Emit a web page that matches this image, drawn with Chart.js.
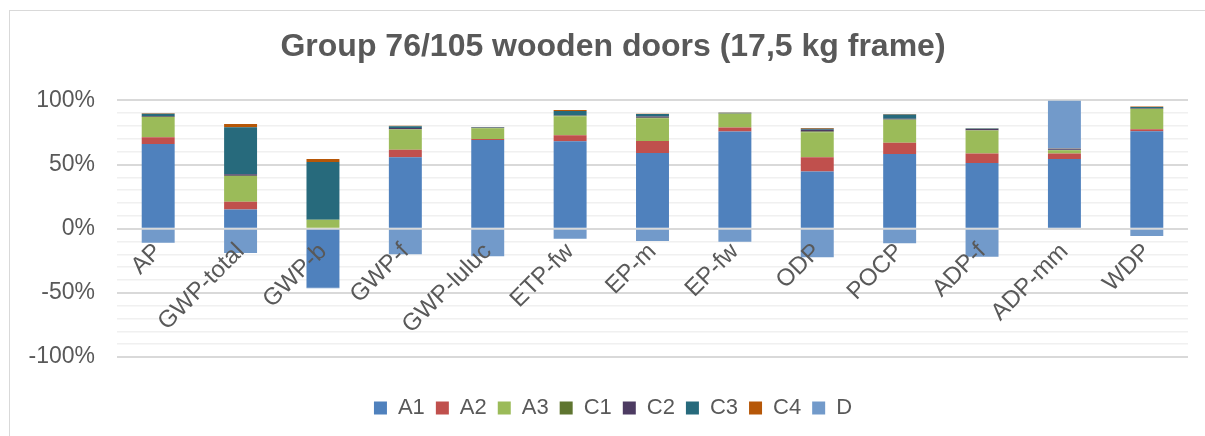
<!DOCTYPE html>
<html>
<head>
<meta charset="utf-8">
<script src="https://cdn.jsdelivr.net/npm/chart.js@4"></script>
<style>
  body { margin: 0; background: #fff; }
  #frame { position: absolute; left: 9px; top: 10px; width: 1300px; height: 500px; border: 1.5px solid #d9d9d9; }
  #wrap { position: absolute; left: 0; top: 0; width: 1205px; height: 436px; }
</style>
</head>
<body>
<div id="frame"></div>
<div id="wrap"><canvas id="chart"></canvas></div>
<script>
const categories = ['AP', 'GWP-total', 'GWP-b', 'GWP-f', 'GWP-luluc', 'ETP-fw', 'EP-m', 'EP-fw', 'ODP', 'POCP', 'ADP-f', 'ADP-mm', 'WDP'];

// shares in percent
const A1 = [66, 15, -46, 55.6, 69.2, 68.1, 59, 75.7, 44.6, 58.3, 51.2, 54.3, 76];
const A2 = [5.2, 6, 0, 6, 0.8, 4.7, 9.4, 3.2, 11, 8.6, 7.5, 4.4, 1.5];
const A3 = [15.8, 20, 7, 15.7, 8.3, 14.9, 17.7, 10.7, 19.6, 18, 17.8, 2.4, 15.7];
const C1 = [0.3, 0.3, 0, 0.3, 0.2, 0.3, 0.3, 0.2, 0.5, 0.3, 0.3, 0.3, 0.3];
const C2 = [0.5, 1.2, 0, 0.8, 0.2, 0.3, 1, 0.2, 1.5, 0.5, 1, 0.5, 0.3];
const C3 = [1.7, 36.5, 45, 1.5, 0.3, 3.4, 2, 0.3, 0.8, 3.4, 0.3, 0.3, 1.1];
const C4 = [0.5, 2.6, 2.3, 0.3, 0.2, 0.8, 0.2, 0.3, 0.5, 0.3, 0.2, 0.2, 0.4];
const D = [-11, -19, -0.5, -20, -21.4, -7.8, -9.6, -10.2, -22.2, -11.4, -21.9, 37.6, -5.7];

const yTicks = [-100, -50, 0, 50, 100];

const textColor = '#595959';
const fontName = "'Liberation Sans', Arial, sans-serif";

function series(label, data, color) {
    return {
        label: label,
        data: data,
        backgroundColor: color,
        borderWidth: 0,
        barPercentage: 0.4,
        categoryPercentage: 1
    };
}

const ctx = document.getElementById('chart');
const chart = new Chart(ctx, {
    type: 'bar',
    data: {
        labels: categories,
        datasets: [
            series('A1', A1, '#4F81BD'),
            series('A2', A2, '#C0504D'),
            series('A3', A3, '#9BBB59'),
            series('C1', C1, '#5F7530'),
            series('C2', C2, '#4D3B62'),
            series('C3', C3, '#276A7C'),
            series('C4', C4, '#B65708'),
            series('D', D, '#729ACA')
        ]
    },
    options: {
        responsive: true,
        maintainAspectRatio: false,
        animation: false,
        layout: { padding: { left: 38, right: 17, top: 10, bottom: 7 } },
        plugins: {
            tooltip: { enabled: false },
            title: {
                display: true,
                text: 'Group 76/105 wooden doors (17,5 kg frame)',
                color: textColor,
                font: { family: fontName, size: 32, weight: 'bold' },
                padding: { top: 18, bottom: 34 }
            },
            legend: {
                position: 'bottom',
                title: { display: true, text: '', font: { size: 10, lineHeight: 1 }, padding: { top: 0, bottom: 19 } },
                labels: {
                    color: textColor,
                    font: { family: fontName, size: 22 },
                    boxWidth: 13,
                    boxHeight: 13,
                    padding: 11
                }
            }
        },
        scales: {
            x: {
                stacked: true,
                position: { y: 0 },
                grid: { display: false },
                border: { display: false },
                ticks: {
                    z: 1,
                    color: textColor,
                    font: { family: fontName, size: 24 },
                    minRotation: 45,
                    maxRotation: 45,
                    padding: 1
                }
            },
            y: {
                stacked: true,
                min: -100,
                max: 100,
                border: { display: false },
                grid: {
                    drawTicks: false,
                    color: c => (c.tick && yTicks.includes(c.tick.value)) ? '#d9d9d9' : '#f0f0f0',
                    lineWidth: c => (c.tick && yTicks.includes(c.tick.value)) ? 2 : 1.5
                },
                ticks: {
                    stepSize: 10,
                    autoSkip: false,
                    color: textColor,
                    font: { family: fontName, size: 23 },
                    padding: 22,
                    callback: v => yTicks.includes(v) ? v + '%' : ''
                },
                afterFit: scale => {
                    scale.width = 79;
                    // let "-100%" run past the scale box instead of being clipped
                    scale._computeLabelArea = () => undefined;
                }
            }
        }
    }
});
</script>
</body>
</html>
